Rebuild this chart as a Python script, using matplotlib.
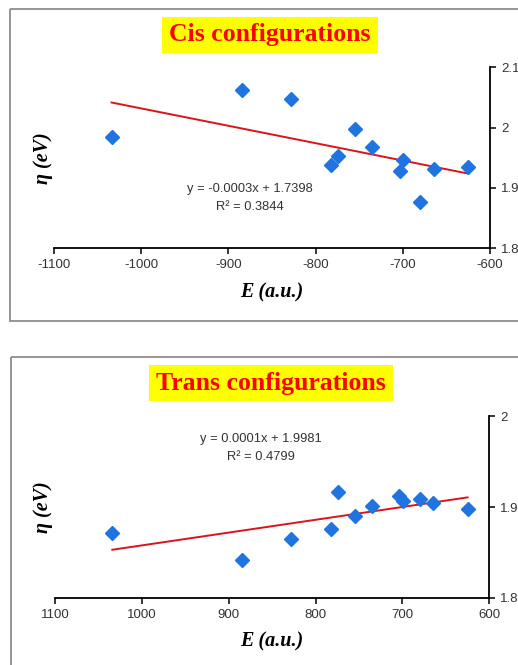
import matplotlib
matplotlib.use("Agg")
import matplotlib.pyplot as plt
import matplotlib.patches as patches
import numpy as np

# energies (a.u.) shared by both series
energy = [-1034, -884.5, -828.5, -782.5, -774.5, -754.5, -735.5, -703.5, -699.5, -680, -664.5, -625]
eta_cis = [1.984, 2.062, 2.047, 1.938, 1.953, 1.997, 1.968, 1.928, 1.946, 1.876, 1.932, 1.935]
eta_trans = [1.871, 1.842, 1.865, 1.876, 1.917, 1.890, 1.901, 1.912, 1.907, 1.909, 1.904, 1.898]

cis_eq = ["y = -0.0003x + 1.7398", "R² = 0.3844"]
trans_eq = ["y = 0.0001x + 1.9981", "R² = 0.4799"]

x_ticks = [-1100, -1000, -900, -800, -700, -600]
cis_yticks = [1.8, 1.9, 2.0, 2.1]
trans_yticks = [1.8, 1.9, 2.0]

W, H = 518, 665
fig = plt.figure(figsize=(W / 100, H / 100), dpi=100)

serif = ["Liberation Serif", "DejaVu Serif"]
sans = ["Liberation Sans", "DejaVu Sans"]


def px(x0, y0, x1, y1):
    # pixel box -> figure fraction [l, b, w, h]
    return [x0 / W, 1 - y1 / H, (x1 - x0) / W, (y1 - y0) / H]


def box_center_y(box):
    return 1 - (box[1] + box[3] / 2)


def panel(box, frame, title, title_xy, y, yticks, ylabels, eq, eq_xy, abs_labels):
    # grey outer frame, runs off the right/bottom edge like the crop
    fig.patches.append(patches.Rectangle((frame[0] / W, 1 - frame[1] / H), 2, -(frame[2] - frame[1]) / H,
                                         transform=fig.transFigure, fill=False,
                                         edgecolor="#8c8c8c", linewidth=1.3))
    ax = fig.add_axes(box)
    ax.patch.set_alpha(0)
    for s in ["top", "left"]:
        ax.spines[s].set_visible(False)
    ax.spines["bottom"].set_linewidth(1.3)
    ax.spines["right"].set_linewidth(1.3)
    ax.yaxis.tick_right()

    ax.plot(energy, y, linestyle="none", marker="D", markersize=7,
            color="#1f74e0", markeredgecolor="#1f74e0", zorder=3)
    k, b = np.polyfit(energy, y, 1)
    xs = np.array([min(energy), max(energy)])
    ax.plot(xs, k * xs + b, color="#d9141b", linewidth=1.4, zorder=2)

    ax.set_xlim(-1100, -600)
    ax.set_ylim(yticks[0], yticks[-1])
    ax.set_xticks(x_ticks)
    if abs_labels:
        ax.set_xticklabels([str(abs(v)) for v in x_ticks])
    else:
        ax.set_xticklabels([str(v) for v in x_ticks])
    ax.set_yticks(yticks)
    ax.set_yticklabels(ylabels)
    ax.tick_params(direction="out", length=4, width=1.1, labelsize=9.5,
                   labelcolor="#333333", pad=4)
    for t in ax.get_xticklabels() + ax.get_yticklabels():
        t.set_family(sans)

    ax.set_xlabel("E (a.u.)", family=serif, fontsize=14.5, fontweight="bold",
                  fontstyle="italic", labelpad=8)
    fig.text(43 / W, 1 - box_center_y(box), "η (eV)", family=serif, fontsize=14.5,
             fontweight="bold", fontstyle="italic", rotation=90, ha="center", va="center")

    fig.text(title_xy[0] / W, 1 - title_xy[1] / H, title, family=serif, fontsize=18.5,
             fontweight="bold", color="#ff0000", ha="center", va="center",
             bbox=dict(facecolor="#ffff00", edgecolor="none", pad=5))
    fig.text(eq_xy[0] / W, 1 - eq_xy[1] / H, eq[0] + "\n" + eq[1], family=sans,
             fontsize=9.3, color="#333333", ha="center", va="center", linespacing=1.6)
    return ax


panel(px(54, 67.3, 490, 248.3), (10, 9, 321), "Cis configurations", (270, 35),
      eta_cis, cis_yticks, ["1.8", "1.9", "2", "2.1"], cis_eq, (250, 198), False)
panel(px(55, 416.3, 489.3, 597.7), (11, 357, 680), "Trans configurations", (271, 383),
      eta_trans, trans_yticks, ["1.8", "1.9", "2"], trans_eq, (261, 448), True)

fig.savefig("out.png", dpi=100)
